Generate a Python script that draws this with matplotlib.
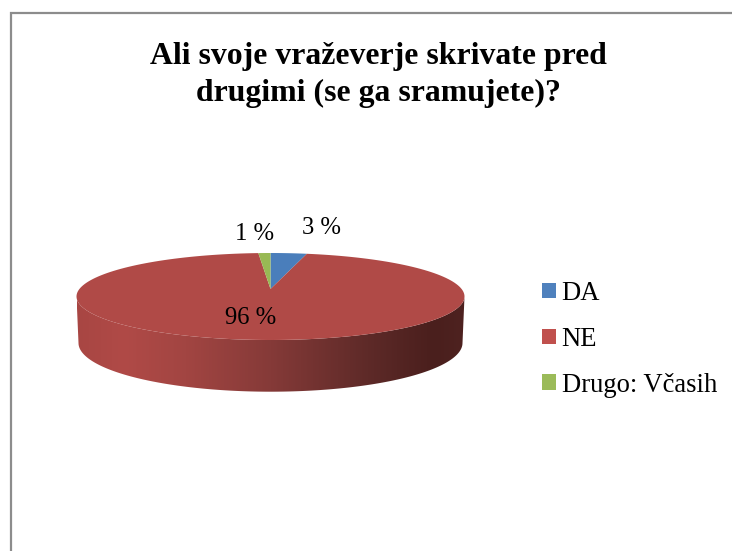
import numpy as np
import matplotlib
matplotlib.use('Agg')
import matplotlib.pyplot as plt
from matplotlib.patches import Patch, Polygon
from matplotlib.colors import LinearSegmentedColormap

title = 'Ali svoje vraževerje skrivate pred\ndrugimi (se ga sramujete)?'
categories = ['DA', 'NE', 'Drugo: Včasih']
values = [3, 96, 1]
labels = ['3 %', '96 %', '1 %']
colors = ['#4a7ebb', '#b04a47', '#98b954']
legend_colors = ['#4f81bd', '#c0504d', '#9bbb59']

plt.rcParams['font.family'] = ['Liberation Serif', 'DejaVu Serif']

W, H = 732, 551
fig = plt.figure(figsize=(W / 100, H / 100), dpi=100)
ax = fig.add_axes([0, 0, 1, 1])
ax.set_xlim(0, W)
ax.set_ylim(H, 0)
ax.axis('off')

# chart frame, only left and top show up in the crop
ax.plot([10.5, 10.5, W], [H, 12.5, 12.5], color='#8c8c8c', lw=1.6, solid_joinstyle='miter')

ax.text(378, 75, title, ha='center', va='center', fontsize=22.9, fontweight='bold',
        linespacing=1.32, color='black')

# pie geometry in pixels
cx, cy, rx, ry = 270.5, 296.5, 194, 43.5
apex_y = 289
depth_cx, depth_cy, depth_rx, depth_ry = 270.5, 343, 192, 48.7


def arc(a0, a1, n=200):
    t = np.radians(np.linspace(a0, a1, n))
    return np.column_stack([cx + rx * np.sin(t), cy - ry * np.cos(t)])


# side wall with horizontal shading
t = np.radians(np.linspace(90, 270, 200))
upper = np.column_stack([cx + rx * np.sin(t), cy - ry * np.cos(t)])
t2 = t[::-1]
lower = np.column_stack([depth_cx + depth_rx * np.sin(t2), depth_cy - depth_ry * np.cos(t2)])
wall = Polygon(np.vstack([upper, lower]), closed=True, fc='none', ec='none')
ax.add_patch(wall)
shade = LinearSegmentedColormap.from_list('shade', [
    (0.0, '#a84643'), (0.12, '#b04a47'), (0.28, '#a24542'),
    (0.5, '#853a38'), (0.75, '#5e2a28'), (0.92, '#4a1f1d'), (1.0, '#4e2220')])
img = ax.imshow(np.linspace(0, 1, 256)[None, :], cmap=shade, aspect='auto',
                extent=[cx - rx, cx + rx, 395, 290], zorder=1)
img.set_clip_path(wall)
ax.set_xlim(0, W)
ax.set_ylim(H, 0)

# top face, slices go clockwise from 12 o'clock
ends = np.cumsum(values) / sum(values) * 360
starts = np.r_[0, ends[:-1]]
for a0, a1, c in zip(starts, ends, colors):
    pts = np.vstack([[cx, apex_y], arc(a0, a1)])
    ax.fill(pts[:, 0], pts[:, 1], color=c, lw=0, zorder=2)

label_pos = [(322, 228), (251, 318), (255, 234)]
for s, (x, y) in zip(labels, label_pos):
    ax.text(x, y, s, ha='center', va='center', fontsize=17.7, color='black', zorder=3)

handles = [Patch(fc=c, ec='none') for c in legend_colors]
leg = ax.legend(handles, categories, loc='upper left', bbox_to_anchor=(542 / W, 1 - 281 / H),
                frameon=False, fontsize=19.2, handlelength=0.525, handleheight=0.525,
                handletextpad=0.21, labelspacing=0.78, borderpad=0, borderaxespad=0)

fig.savefig('out.png', dpi=100)
